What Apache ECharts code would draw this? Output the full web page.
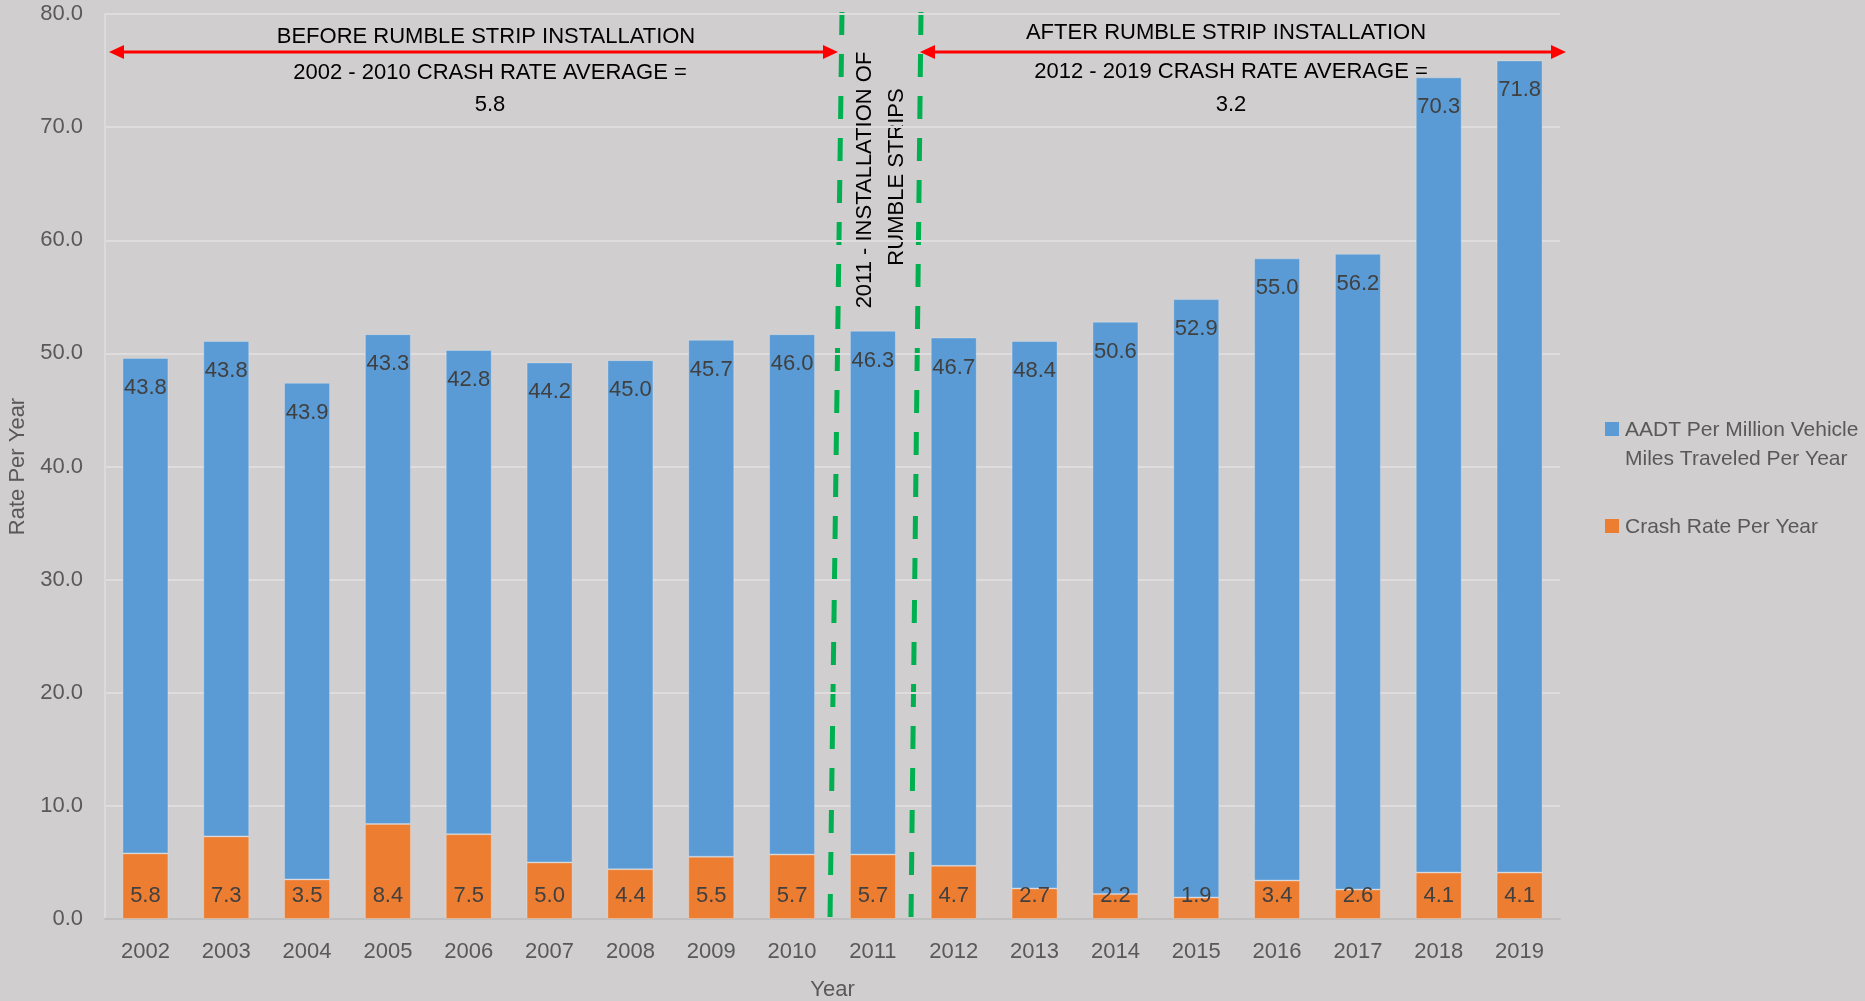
<!DOCTYPE html>
<html>
<head>
<meta charset="utf-8">
<title>Rumble Strip Crash Rate</title>
<script src="https://cdn.jsdelivr.net/npm/echarts@6/dist/echarts.min.js"></script>
<style>
html, body { margin: 0; padding: 0; background: #D0CECE; }
#chart { width: 1865px; height: 1001px; }
</style>
</head>
<body>
<div id="chart"></div>
<script>
// data
const years = ['2002','2003','2004','2005','2006','2007','2008','2009','2010','2011','2012','2013','2014','2015','2016','2017','2018','2019'];
const crashRate = [5.8, 7.3, 3.5, 8.4, 7.5, 5.0, 4.4, 5.5, 5.7, 5.7, 4.7, 2.7, 2.2, 1.9, 3.4, 2.6, 4.1, 4.1];
const aadt = [43.8, 43.8, 43.9, 43.3, 42.8, 44.2, 45.0, 45.7, 46.0, 46.3, 46.7, 48.4, 50.6, 52.9, 55.0, 56.2, 70.3, 71.8];
const yTicks = { min: 0, max: 80, interval: 10 };

const FONT = "'Liberation Sans', sans-serif";
const GREY = '#595959';
const BLUE = '#5B9BD5';
const ORANGE = '#ED7D31';
const GREEN = '#00B050';
const RED = '#FF0000';

const chart = echarts.init(document.getElementById('chart'));

// arrow = line + two heads
const arrow = (x1, x2, y) => ([
    { type: 'line', shape: { x1: x1 + 10, y1: y, x2: x2 - 10, y2: y }, style: { stroke: RED, lineWidth: 3 } },
    { type: 'polygon', shape: { points: [[x1, y], [x1 + 15, y - 7], [x1 + 15, y + 7]] }, style: { fill: RED } },
    { type: 'polygon', shape: { points: [[x2, y], [x2 - 15, y - 7], [x2 - 15, y + 7]] }, style: { fill: RED } }
]);
const note = (x, y, text, size) => ({
    type: 'text', x: x, y: y,
    style: { text: text, fill: '#000', font: size + 'px ' + FONT, align: 'center', verticalAlign: 'middle' }
});

const option = {
    backgroundColor: '#D0CECE',
    textStyle: { fontFamily: FONT },
    grid: { left: 105, right: 305, top: 14, bottom: 82, outerBoundsMode: 'none', containLabel: false },
    xAxis: {
        type: 'category',
        data: years,
        name: 'Year',
        nameLocation: 'middle',
        nameGap: 60,
        nameTextStyle: { color: GREY, fontSize: 22 },
        axisTick: { show: false },
        axisLine: { lineStyle: { color: '#BFBFBF', width: 2 } },
        axisLabel: { color: GREY, fontSize: 22, margin: 22 }
    },
    yAxis: {
        type: 'value',
        min: yTicks.min,
        max: yTicks.max,
        interval: yTicks.interval,
        name: 'Rate Per Year',
        nameLocation: 'middle',
        nameGap: 76,
        nameTextStyle: { color: GREY, fontSize: 22 },
        axisLine: { show: true, lineStyle: { color: '#DCDADA', width: 2 } },
        axisLabel: { color: GREY, fontSize: 22, margin: 22, formatter: v => v.toFixed(1) },
        splitLine: { lineStyle: { color: '#DEDCDC', width: 2 } }
    },
    series: [
        {
            name: 'Crash Rate Per Year',
            type: 'bar',
            stack: 'total',
            barWidth: 46,
            data: crashRate,
            itemStyle: { color: ORANGE, borderColor: 'rgba(255,255,255,0.25)', borderWidth: 1 },
            label: {
                show: true, position: 'insideBottom', distance: 12,
                color: '#404040', fontSize: 22, formatter: p => p.value.toFixed(1)
            }
        },
        {
            name: 'AADT Per Million Vehicle Miles Traveled Per Year',
            type: 'bar',
            stack: 'total',
            barWidth: 46,
            data: aadt,
            itemStyle: { color: BLUE, borderColor: 'rgba(255,255,255,0.25)', borderWidth: 1 },
            label: {
                show: true, position: 'insideTop', distance: 19,
                color: '#404040', fontSize: 22, formatter: p => p.value.toFixed(1)
            }
        }
    ],
    graphic: [
        // installation year markers
        { type: 'line', shape: { x1: 842, y1: 12, x2: 830, y2: 920 }, style: { stroke: GREEN, lineWidth: 5, lineDash: [23, 19] } },
        { type: 'line', shape: { x1: 921, y1: 12, x2: 911, y2: 920 }, style: { stroke: GREEN, lineWidth: 5, lineDash: [23, 19] } },
        ...arrow(109, 838, 52),
        ...arrow(920, 1566, 52),
        note(486, 37, 'BEFORE RUMBLE STRIP INSTALLATION', 22),
        note(490, 73, '2002 - 2010 CRASH RATE AVERAGE =', 22),
        note(490, 105, '5.8', 22),
        note(1226, 33, 'AFTER RUMBLE STRIP INSTALLATION', 22),
        note(1231, 72, '2012 - 2019 CRASH RATE AVERAGE =', 22),
        note(1231, 105, '3.2', 22),
        {
            type: 'text', x: 865, y: 180, rotation: Math.PI / 2,
            style: { text: '2011 - INSTALLATION OF', fill: '#000', font: '22px ' + FONT, align: 'center', verticalAlign: 'middle' }
        },
        {
            type: 'text', x: 897, y: 177, rotation: Math.PI / 2,
            style: { text: 'RUMBLE STRIPS', fill: '#000', font: '22px ' + FONT, align: 'center', verticalAlign: 'middle' }
        },
        // legend
        { type: 'rect', shape: { x: 1605, y: 422, width: 14, height: 14 }, style: { fill: BLUE } },
        {
            type: 'text', x: 1625, y: 416,
            style: { text: 'AADT Per Million Vehicle\nMiles Traveled Per Year', fill: GREY, font: '21px ' + FONT, lineHeight: 29 }
        },
        { type: 'rect', shape: { x: 1605, y: 519, width: 14, height: 14 }, style: { fill: ORANGE } },
        {
            type: 'text', x: 1625, y: 527,
            style: { text: 'Crash Rate Per Year', fill: GREY, font: '21px ' + FONT, verticalAlign: 'middle' }
        }
    ]
};

chart.setOption(option);
</script>
</body>
</html>
